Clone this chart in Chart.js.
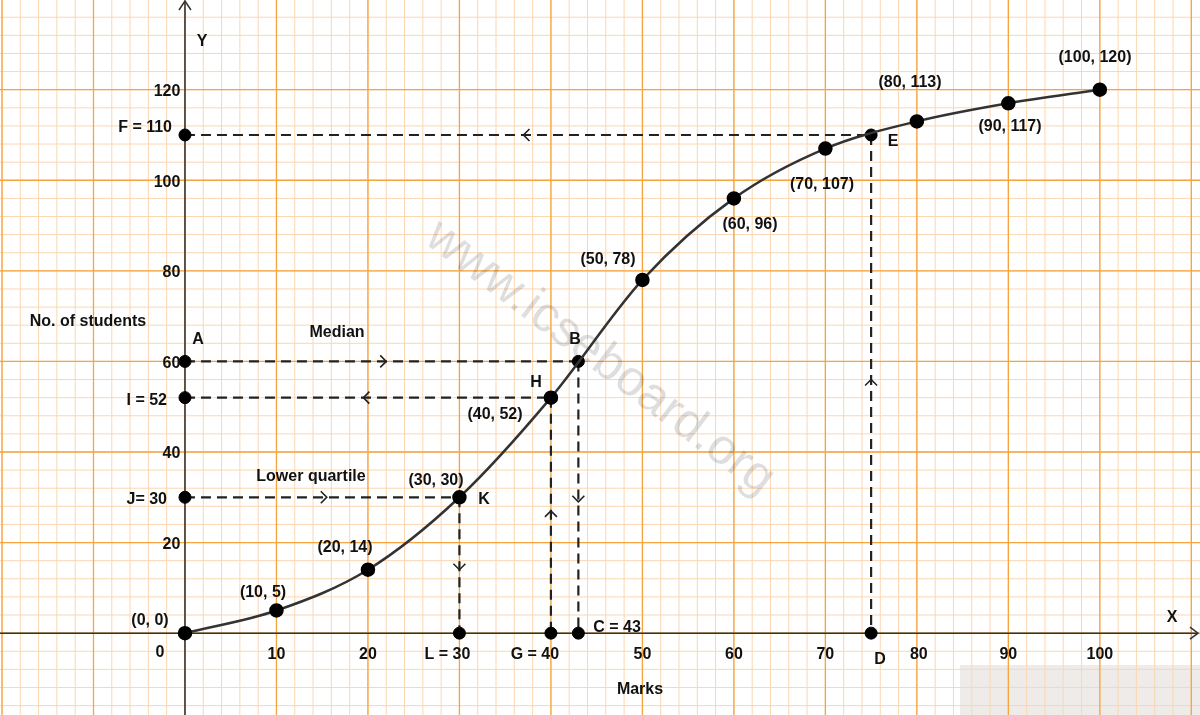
<!DOCTYPE html>
<html><head><meta charset="utf-8">
<script src="https://cdn.jsdelivr.net/npm/chart.js@4/dist/chart.umd.min.js"></script>
<style>html,body{margin:0;padding:0;background:#fff}#wrap{width:1200px;height:715px}</style>
</head><body><div id="wrap"><canvas id="c"></canvas></div>
<script>
const marks=[0,10,20,30,40,50,60,70,80,90,100];
const students=[0,5,14,30,52,78,96,107,113,117,120];
const pointLabels=["(0, 0)","(10, 5)","(20, 14)","(30, 30)","(40, 52)","(50, 78)","(60, 96)","(70, 107)","(80, 113)","(90, 117)","(100, 120)"];
const extraX=[43,75,0,0,0,0,30,40,43,75];
const extraY=[60,110,60,52,30,110,0,0,0,0];
const yTicks=[20,40,60,80,100,120];
const xTicks=["10","20","L = 30","G = 40","50","60","70","80","90","100"];
const xTickVals=[10,20,30,40,50,60,70,80,90,100];
// dashed guides: [x1,y1,x2,y2, arrow position, arrow direction]
const guides=[[0,60,43,60,22,'r'],[43,60,43,0,29,'d'],[0,52,40,52,19.5,'l'],[40,52,40,0,27,'u'],[0,30,30,30,15.5,'r'],[30,30,30,0,14,'d'],[0,110,75,110,37,'l'],[75,110,75,0,56,'u']];
const txt=[["Y",202,42,'center'],["X",1172,618,'center'],["0",160,653,'center'],["D",880,660,'center'],["C = 43",617,628,'center'],["Marks",640,690,'center'],["No. of students",88,322,'center'],["F = 110",172,128,'right'],["I = 52",167,401,'right'],["J= 30",167,500,'right'],["A",198,340,'center'],["B",575,340,'center'],["H",536,383,'center'],["K",484,500,'center'],["E",893,142,'center'],["Median",337,333,'center'],["Lower quartile",311,477,'center']];
const lblPos=[[150,621],[263,593],[345,548],[436,481],[495,415],[608,260],[750,225],[822,185],[910,83],[1010,127],[1095,58]];

const deco={id:'deco',
beforeDatasetsDraw(ch){const c=ch.ctx,x=ch.scales.x,y=ch.scales.y;const W=ch.width,H=ch.height;
 c.save();c.fillStyle='#eeebe8';c.fillRect(960,665,240,50);
 c.lineWidth=1;c.strokeStyle='#fbd7b2';
 for(let v=-20;v<=112;v+=2){const p=x.getPixelForValue(v);c.beginPath();c.moveTo(p,0);c.lineTo(p,H);c.stroke();}
 for(let v=-16;v<=140;v+=4){const p=y.getPixelForValue(v);c.beginPath();c.moveTo(0,p);c.lineTo(W,p);c.stroke();}
 c.strokeStyle='#f6a53e';c.lineWidth=1.3;
 for(let v=-20;v<=112;v+=10){const p=x.getPixelForValue(v);c.beginPath();c.moveTo(p,0);c.lineTo(p,H);c.stroke();}
 for(let v=-20;v<=140;v+=20){const p=y.getPixelForValue(v);c.beginPath();c.moveTo(0,p);c.lineTo(W,p);c.stroke();}
 // watermark
 c.save();c.translate(600,358);c.rotate(37*Math.PI/180);c.font='50px "Liberation Sans"';c.fillStyle='rgba(0,0,0,0.13)';c.textAlign='center';c.textBaseline='middle';c.fillText('www.icseboard.org',0,0);c.restore();
 // axes
 const x0=x.getPixelForValue(0),y0=y.getPixelForValue(0);
 c.strokeStyle='#333';c.lineWidth=1.5;
 c.beginPath();c.moveTo(0,y0);c.lineTo(W-2,y0);c.moveTo(x0,H);c.lineTo(x0,1);c.stroke();
 c.beginPath();c.moveTo(W-10,y0-6);c.lineTo(W-2,y0);c.lineTo(W-10,y0+6);c.moveTo(x0-6,10);c.lineTo(x0,1);c.lineTo(x0+6,10);c.stroke();
 // guides
 c.strokeStyle='#222';c.lineWidth=2.2;c.setLineDash([10,6]);
 guides.forEach(g=>{c.beginPath();c.moveTo(x.getPixelForValue(g[0]),y.getPixelForValue(g[1]));c.lineTo(x.getPixelForValue(g[2]),y.getPixelForValue(g[3]));c.stroke();});
 c.setLineDash([]);c.lineWidth=1.6;
 guides.forEach(g=>{let px,py;const s=6;
  if(g[5]=='r'||g[5]=='l'){px=x.getPixelForValue(g[4]);py=y.getPixelForValue(g[1]);const d=g[5]=='r'?1:-1;c.beginPath();c.moveTo(px-d*s,py-s);c.lineTo(px,py);c.lineTo(px-d*s,py+s);c.stroke();}
  else{px=x.getPixelForValue(g[0]);py=y.getPixelForValue(g[4]);const d=g[5]=='d'?1:-1;c.beginPath();c.moveTo(px-s,py-d*s);c.lineTo(px,py);c.lineTo(px+s,py-d*s);c.stroke();}});
 c.restore();},
afterDatasetsDraw(ch){const c=ch.ctx,x=ch.scales.x,y=ch.scales.y;c.save();
 c.font='bold 16px "Liberation Sans"';c.fillStyle='#111';c.textBaseline='middle';
 yTicks.forEach(v=>{c.textAlign='right';c.fillText(String(v),x.getPixelForValue(-0.5),y.getPixelForValue(v)+2);});
 xTicks.forEach((t,i)=>{c.textAlign='center';c.fillText(t,x.getPixelForValue(xTickVals[i])+(i==2?-12:i==3?-16:i==7?2:0),655);});
 txt.forEach(t=>{c.textAlign=t[3];c.fillText(t[0],t[1],t[2]);});
 pointLabels.forEach((t,i)=>{c.textAlign='center';c.fillText(t,lblPos[i][0],lblPos[i][1]);});
 c.restore();}};

new Chart(document.getElementById('c'),{type:'scatter',
data:{datasets:[
 {data:marks.map((m,i)=>({x:m,y:students[i]})),showLine:true,tension:0.4,cubicInterpolationMode:'monotone',borderColor:'#333',borderWidth:2.5,pointRadius:6,pointBackgroundColor:'#000',pointBorderColor:'#000'},
 {data:extraX.map((m,i)=>({x:m,y:extraY[i]})),showLine:false,pointRadius:6,pointBackgroundColor:'#000',pointBorderColor:'#000'}]},
options:{responsive:true,maintainAspectRatio:false,animation:false,layout:{padding:0},
 plugins:{legend:{display:false},tooltip:{enabled:false}},
 scales:{x:{type:'linear',min:-19.29,max:110.02,display:false},y:{type:'linear',min:-16.2,max:137.93,display:false}}},
plugins:[deco]});
</script></body></html>
